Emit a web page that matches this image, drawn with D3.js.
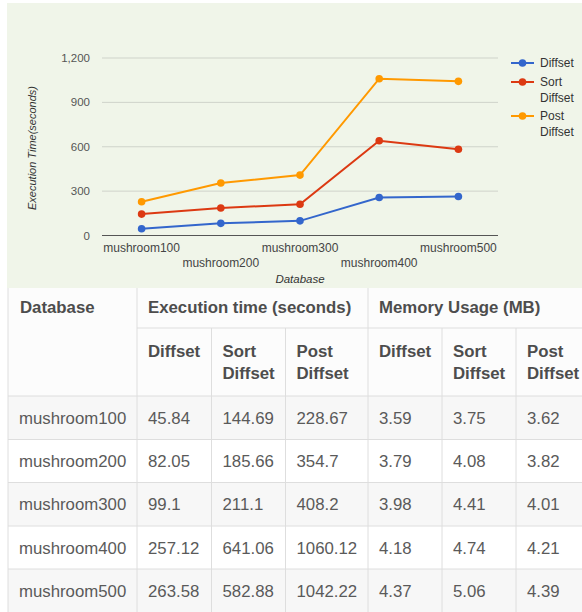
<!DOCTYPE html>
<html>
<head>
<meta charset="utf-8">
<script src="https://cdn.jsdelivr.net/npm/d3@7"></script>
<style>
  body { margin: 0; background: #fff; }
  svg { display: block; font-family: "Liberation Sans", Arial, sans-serif; }
</style>
</head>
<body>
<div id="canvas"></div>
<script>
// DATA ========================================================================

var DATABASES = ["mushroom100", "mushroom200", "mushroom300", "mushroom400", "mushroom500"]

var SERIES = ["Diffset", "Sort Diffset", "Post Diffset"]

var TIME_DIFFSET = [45.84, 82.05, 99.1, 257.12, 263.58]
var TIME_SORT = [144.69, 185.66, 211.1, 641.06, 582.88]
var TIME_POST = [228.67, 354.7, 408.2, 1060.12, 1042.22]

var MEM_DIFFSET = ["3.59", "3.79", "3.98", "4.18", "4.37"]
var MEM_SORT = ["3.75", "4.08", "4.41", "4.74", "5.06"]
var MEM_POST = ["3.62", "3.82", "4.01", "4.21", "4.39"]

var TIME_LABELS = ["45.84", "82.05", "99.1", "257.12", "263.58"]
var SORT_LABELS = ["144.69", "185.66", "211.1", "641.06", "582.88"]
var POST_LABELS = ["228.67", "354.7", "408.2", "1060.12", "1042.22"]

var Y_TICKS = [0, 300, 600, 900, 1200]

var COLORS = ["#3366cc", "#dc3912", "#ff9900"]

// SETUP =======================================================================

var W = 582, H = 612

var svg = d3.select("#canvas").append("svg")
    .attr("width", W)
    .attr("height", H)

// chart background
svg.append("rect")
    .attr("x", 7).attr("y", 3)
    .attr("width", W - 7).attr("height", 285)
    .attr("fill", "#f0f5e9")

var x = d3.scalePoint().domain(DATABASES).range([102, 498]).padding(0.5)
var y = d3.scaleLinear().domain([0, 1200]).range([235.5, 58])

var chart = svg.append("g")

// gridlines
chart.selectAll("line.grid")
    .data(Y_TICKS).enter()
    .append("line")
        .attr("x1", 102).attr("x2", 498)
        .attr("y1", d => y(d)).attr("y2", d => y(d))
        .attr("stroke", d => d === 0 ? "#555" : "#cfd3ca")
        .attr("stroke-width", d => d === 0 ? 1.2 : 1)

// y tick labels
chart.selectAll("text.ytick")
    .data(Y_TICKS).enter()
    .append("text")
        .text(d3.format(","))
        .attr("x", 90)
        .attr("y", d => y(d) + 4)
        .attr("text-anchor", "end")
        .attr("font-size", "11.5px")
        .attr("fill", "#555")

// x tick labels, alternating rows
chart.selectAll("text.xtick")
    .data(DATABASES).enter()
    .append("text")
        .text(d => d)
        .attr("x", d => x(d))
        .attr("y", (d, i) => i % 2 === 0 ? 251.5 : 266.5)
        .attr("text-anchor", "middle")
        .attr("font-size", "12px")
        .attr("fill", "#444")

// axis titles
chart.append("text")
    .text("Database")
    .attr("x", 300).attr("y", 283)
    .attr("text-anchor", "middle")
    .attr("font-size", "11.5px")
    .attr("font-style", "italic")
    .attr("fill", "#333")

chart.append("text")
    .text("Execution Time(seconds)")
    .attr("transform", "translate(36,148) rotate(-90)")
    .attr("text-anchor", "middle")
    .attr("font-size", "11px")
    .attr("font-style", "italic")
    .attr("fill", "#333")

// lines and points
var seriesData = [TIME_DIFFSET, TIME_SORT, TIME_POST]
var line = d3.line()
    .x((d, i) => x(DATABASES[i]))
    .y(d => y(d))

seriesData.forEach(function(vals, s) {
    chart.append("path")
        .attr("d", line(vals))
        .attr("fill", "none")
        .attr("stroke", COLORS[s])
        .attr("stroke-width", 2)

    chart.selectAll("circle.s" + s)
        .data(vals).enter()
        .append("circle")
            .attr("cx", (d, i) => x(DATABASES[i]))
            .attr("cy", d => y(d))
            .attr("r", 3.8)
            .attr("fill", COLORS[s])
})

// legend
var LEGEND_Y = [63, 82, 116]
var legend = chart.selectAll("g.legend")
    .data(SERIES).enter()
    .append("g")
        .attr("transform", (d, i) => "translate(0," + LEGEND_Y[i] + ")")

legend.append("line")
    .attr("x1", 511).attr("x2", 534)
    .attr("stroke", (d, i) => COLORS[i])
    .attr("stroke-width", 2)

legend.append("circle")
    .attr("cx", 522.5).attr("r", 3.8)
    .attr("fill", (d, i) => COLORS[i])

legend.each(function(d) {
    let words = d.split(" ")
    let g = d3.select(this)
    words.forEach(function(w, k) {
        g.append("text")
            .text(w)
            .attr("x", 540)
            .attr("y", 4 + k*16)
            .attr("font-size", "12px")
            .attr("fill", "#333")
    })
})

// TABLE =======================================================================

var COL_X = [8, 137, 211.5, 285.5, 368, 442, 516, 600]
var ROW_Y = [396, 439.5, 482.5, 526, 569, 612]
var PAD = 11
var TABLE_FONT = "16.8px"
var TEXT_COLOR = "#5a5a5a"

var table = svg.append("g")

// striped rows
table.selectAll("rect.row")
    .data(DATABASES).enter()
    .append("rect")
        .attr("x", COL_X[0])
        .attr("y", (d, i) => ROW_Y[i])
        .attr("width", W - COL_X[0])
        .attr("height", (d, i) => ROW_Y[i + 1] - ROW_Y[i])
        .attr("fill", (d, i) => i % 2 === 0 ? "#f7f7f7" : "#fff")

// header background
table.append("rect")
    .attr("x", COL_X[0]).attr("y", 288)
    .attr("width", W - COL_X[0]).attr("height", 108)
    .attr("fill", "#fcfcfc")

var border = "#dedede"

// horizontal borders
table.append("line")
    .attr("x1", COL_X[1]).attr("x2", W)
    .attr("y1", 328).attr("y2", 328)
    .attr("stroke", border)

table.selectAll("line.h")
    .data(ROW_Y.slice(0, 5)).enter()
    .append("line")
        .attr("x1", COL_X[0]).attr("x2", W)
        .attr("y1", d => d).attr("y2", d => d)
        .attr("stroke", border)

// vertical borders
table.append("line")
    .attr("x1", COL_X[0]).attr("x2", COL_X[0])
    .attr("y1", 288).attr("y2", 612)
    .attr("stroke", border)

table.selectAll("line.v")
    .data([1, 2, 3, 4, 5, 6]).enter()
    .append("line")
        .attr("x1", d => COL_X[d]).attr("x2", d => COL_X[d])
        .attr("y1", d => (d === 1 || d === 4) ? 288 : 328)
        .attr("y2", 612)
        .attr("stroke", border)

// header text
function headerText(txt, xx, yy) {
    table.append("text")
        .text(txt)
        .attr("x", xx).attr("y", yy)
        .attr("font-size", TABLE_FONT)
        .attr("font-weight", "bold")
        .attr("fill", "#4d4d4d")
}

headerText("Database", COL_X[0] + 12, 312.5)
headerText("Execution time (seconds)", COL_X[1] + PAD, 312.5)
headerText("Memory Usage (MB)", COL_X[4] + PAD, 312.5)

var SUB_HEADERS = [["Diffset"], ["Sort", "Diffset"], ["Post", "Diffset"]]
for (let c = 0; c < 6; c++) {
    SUB_HEADERS[c % 3].forEach(function(w, k) {
        headerText(w, COL_X[c + 1] + PAD, 356.5 + k*22.7)
    })
}

// body cells
var COLUMNS = [DATABASES, TIME_LABELS, SORT_LABELS, POST_LABELS, MEM_DIFFSET, MEM_SORT, MEM_POST]
COLUMNS.forEach(function(col, c) {
    table.selectAll("text.c" + c)
        .data(col).enter()
        .append("text")
            .text(d => d)
            .attr("x", c === 0 ? COL_X[0] + 11 : COL_X[c] + PAD)
            .attr("y", (d, i) => ROW_Y[i] + 27.5)
            .attr("font-size", TABLE_FONT)
            .attr("fill", TEXT_COLOR)
})
</script>
</body>
</html>
